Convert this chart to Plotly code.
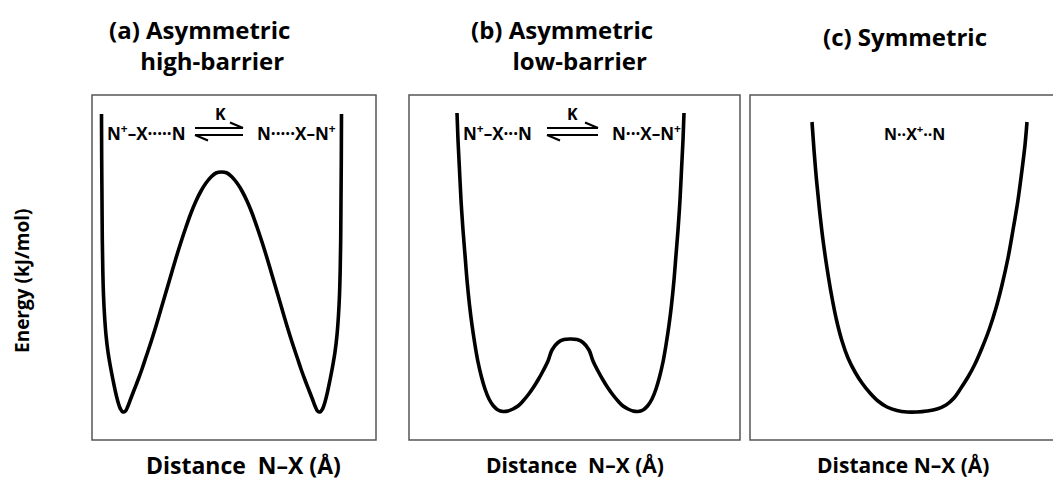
import plotly.graph_objects as go

# ---------------- data (arbitrary units) ----------------
# (a) asymmetric high-barrier
dist_a = [9.5, 9.7, 10, 10.3, 10.8, 11.5, 12.5, 14, 16, 18.5, 21, 23.5, 26, 28.5, 31, 33.5, 36, 39, 42.5, 46,
          50, 54, 59, 64, 69, 74, 79, 84, 89, 94, 99, 104, 109, 114, 119, 124, 129.5,
          135, 140, 145, 150, 155, 160, 165, 170, 175, 180, 185, 190, 195, 200, 205, 209, 213, 216.5, 220, 223,
          225.5, 228, 230.5, 233, 235.5, 238, 240.5, 243, 245, 246.5, 247.5, 248.2, 248.7, 249, 249.3, 249.5]
energy_a = [326, 280, 240, 200, 170, 145, 125, 105, 88, 73, 60, 48, 38, 31, 28, 29, 34, 42, 51, 60,
            71, 83, 98, 114, 131, 148, 165, 182, 198, 213, 227, 239, 249, 257, 263, 267, 268,
            267, 263, 257, 249, 239, 227, 213, 198, 182, 165, 148, 131, 114, 98, 83, 71, 60, 51, 42, 34,
            29, 28, 31, 38, 48, 60, 73, 88, 105, 125, 145, 170, 200, 240, 280, 326]

# (b) asymmetric low-barrier
dist_b = [48, 49, 50.5, 52, 54, 56, 58, 60.5, 63, 66, 69, 72.5, 76, 80, 84.5, 89, 94, 99, 104, 109,
          114, 119, 124, 129, 134, 139, 143, 149, 155, 161.5,
          168, 174, 180, 184, 189, 194, 199, 204, 209, 214, 219, 224, 229, 234, 238.5, 243, 247, 250.5, 254, 257,
          260, 262.5, 265, 267, 269, 271, 272.5, 274, 275]
energy_b = [327, 300, 270, 240, 210, 185, 160, 135, 115, 95, 78, 63, 51, 41, 34, 30, 28.5, 29, 31, 34,
            39, 45, 52, 60, 69, 79, 90, 97.5, 100.5, 101,
            100.5, 97.5, 90, 79, 69, 60, 52, 45, 39, 34, 31, 29, 28.5, 30, 34, 41, 51, 63, 78, 95,
            115, 135, 160, 185, 210, 240, 270, 300, 327]

# (c) symmetric
dist_c = [62, 64, 66.5, 69.5, 73, 77, 81.5, 86.5, 92, 98, 105, 112, 120, 128, 137, 147, 157, 167,
          177, 187, 196, 204, 211, 218, 225, 232, 239, 246, 252, 258, 263, 268, 272, 275, 277]
energy_c = [318, 290, 260, 230, 200, 172, 145, 120, 99, 82, 68, 57, 47, 39, 33, 29.5, 28, 28,
            29, 31, 35, 42, 52, 63, 76, 92, 110, 132, 155, 182, 210, 240, 270, 295, 318]

x_ranges = [284, 331, 303]
y_max = 345

titles = ["(a) Asymmetric<br>high-barrier\u00a0", "(b) Asymmetric<br>low-barrier\u00a0", "(c) Symmetric"]
x_labels = ["Distance\u00a0\u00a0N–X (Å)", "Distance\u00a0\u00a0N–X (Å)", "Distance N–X (Å)"]
y_label = "Energy (kJ/mol)"
left_species = ["N<sup>+</sup>–X·····N", "N<sup>+</sup>–X···N", "N··X<sup>+</sup>··N"]
right_species = ["N·····X–N<sup>+</sup>", "N···X–N<sup>+</sup>", None]
eq_label = "K"

# ---------------- layout helpers ----------------
W, H = 1053, 481


def px(x):
    return x / W


def py(y):
    return 1 - y / H


boxes = [(92, 376), (409, 740), (750, 1053)]
box_top, box_bot = 95, 440

fig = go.Figure()
series = [(dist_a, energy_a), (dist_b, energy_b), (dist_c, energy_c)]
for i, (d, e) in enumerate(series):
    ax = "" if i == 0 else str(i + 1)
    fig.add_trace(go.Scatter(x=d, y=e, mode="lines", xaxis="x" + ax, yaxis="y" + ax,
                             line=dict(color="black", width=3.6, shape="spline", smoothing=1.0),
                             showlegend=False, hoverinfo="skip"))

layout = dict(width=W, height=H, margin=dict(l=0, r=0, t=0, b=0),
              paper_bgcolor="white", plot_bgcolor="white", showlegend=False)
for i, (x0, x1) in enumerate(boxes):
    ax = "" if i == 0 else str(i + 1)
    layout["xaxis" + ax] = dict(domain=[px(x0), min(px(x1), 1.0)], range=[0, x_ranges[i]],
                                visible=False, fixedrange=True, anchor="y" + ax)
    layout["yaxis" + ax] = dict(domain=[py(box_bot), py(box_top)], range=[0, y_max],
                                visible=False, fixedrange=True, anchor="x" + ax)
fig.update_layout(**layout)

# panel boxes
for i, (x0, x1) in enumerate(boxes):
    fig.add_shape(type="rect", xref="paper", yref="paper",
                  x0=px(x0), x1=px(x1) if i < 2 else 1.01, y0=py(box_bot), y1=py(box_top),
                  line=dict(color="#555555", width=1.5), fillcolor="rgba(0,0,0,0)", layer="below")

FONT = "Open Sans"


def text(s, x, y, size, angle=0, xanchor="center", align="center"):
    fig.add_annotation(text="<b>" + s + "</b>", x=px(x), y=py(y), xref="paper", yref="paper",
                       showarrow=False, xanchor=xanchor, yanchor="middle", textangle=angle, align=align,
                       font=dict(family=FONT, size=size, color="black"))


# titles (two-line titles right-aligned like the original)
text(titles[0], 292, 45, 24, xanchor="right", align="right")
text(titles[1], 655, 45, 24, xanchor="right", align="right")
text(titles[2], 905, 36, 24)

# axis labels
text(y_label, 22, 281, 19, angle=-90)
for lab, (x, s) in zip(x_labels, [(243.5, 23), (574.5, 21), (902.5, 21)]):
    text(lab, x, 465, s)

# species and equilibrium labels
sp_pos = [(146.5, 296.5, 220), (497.5, 646.5, 572), (914, None, None)]
for i, (lx, rx, kx) in enumerate(sp_pos):
    text(left_species[i], lx, 133, 17 if i < 2 else 16)
    if right_species[i]:
        text(right_species[i], rx, 133, 17)
        text(eq_label, kx, 114, 16)

# equilibrium harpoons (decoration)
for (x0, x1) in [(195, 243), (547, 598)]:
    ln = dict(color="black", width=2.2)
    fig.add_shape(type="line", xref="paper", yref="paper", x0=px(x0), x1=px(x1), y0=py(128), y1=py(128), line=ln)
    fig.add_shape(type="line", xref="paper", yref="paper", x0=px(x1), x1=px(x1 - 13), y0=py(128), y1=py(122.5), line=ln)
    fig.add_shape(type="line", xref="paper", yref="paper", x0=px(x0), x1=px(x1), y0=py(135), y1=py(135), line=ln)
    fig.add_shape(type="line", xref="paper", yref="paper", x0=px(x0), x1=px(x0 + 13), y0=py(135), y1=py(140.5), line=ln)

fig.write_html("out.html", config={"displayModeBar": False},
               post_script="document.body.style.margin='0px';")
